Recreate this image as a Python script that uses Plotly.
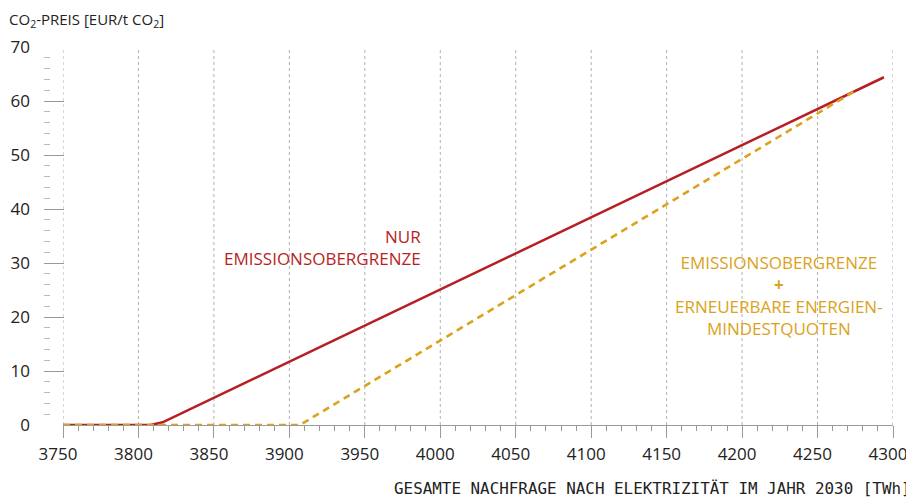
import plotly.graph_objects as go

# Data
nur_x = [3750, 3808, 3816, 4294]
nur_y = [0, 0, 0.5, 64.4]
quote_x = [3750, 3907, 4275]
quote_y = [0, 0, 61.9]

x_ticks = list(range(3750, 4301, 50))
y_ticks = list(range(0, 71, 10))

RED = "#b71f24"
YEL = "#dba21b"
GRID = "#b0b0b0"
AX = "#9a9a9a"
FONT = "Open Sans"

W, H = 906, 490
L, R, T, B = 35, 21, 39, 73
PW, PH = W - L - R, H - T - B

fig = go.Figure()
for t in x_ticks:
    fig.add_shape(type="line", xref="x", yref="y", x0=t, x1=t, y0=y_ticks[0], y1=y_ticks[-1],
                  line=dict(color=GRID, width=1, dash="3px,3px"), layer="below")

fig.add_trace(go.Scatter(x=nur_x, y=nur_y, mode="lines",
                         line=dict(color=RED, width=2.6), cliponaxis=False,
                         showlegend=False, hoverinfo="skip"))
fig.add_trace(go.Scatter(x=quote_x, y=quote_y, mode="lines",
                         line=dict(color=YEL, width=2.6, dash="7px,5px"), cliponaxis=False,
                         showlegend=False, hoverinfo="skip"))

fig.update_layout(
    width=W, height=H,
    margin=dict(l=L, r=R, t=T, b=B, autoexpand=False),
    paper_bgcolor="white", plot_bgcolor="white",
    font=dict(family=FONT, color="#222222"),
    xaxis=dict(range=[3750, 4300], domain=[20 / PW, 1], anchor="y", automargin=False,
               tickvals=x_ticks,
               ticks="outside", ticklen=12, tickcolor=AX, tickwidth=1,
               minor=dict(dtick=10, ticks="outside", ticklen=5, tickcolor=AX, showgrid=False),
               showline=True, linecolor=AX, linewidth=1,
               showgrid=False, zeroline=False, ticklabeloverflow="allow",
               tickfont=dict(size=17, family=FONT, color="#222222"),
               ticklabelstandoff=2, ticklabelshift=-5),
    yaxis=dict(range=[0, 70], anchor="free", position=0, automargin=False,
               tickvals=y_ticks, ticks="inside", ticklen=20, tickcolor=AX, tickwidth=1,
               minor=dict(dtick=2, ticks="inside", ticklen=6, tickcolor="#bbbbbb", showgrid=False),
               showline=False, showgrid=False, zeroline=False, ticklabeloverflow="allow",
               tickfont=dict(size=17, family=FONT, color="#222222"),
               ticklabelstandoff=13),
)

fig.add_annotation(xref="paper", yref="paper", x=-L / PW, y=1 + T / PH,
                   xanchor="left", yanchor="top", showarrow=False, borderpad=0,
                   text="CO<sub>2</sub>-PREIS [EUR/t CO<sub>2</sub>]",
                   font=dict(size=15, family=FONT, color="#222222"))
fig.add_annotation(xref="paper", yref="paper", x=(644 - L) / PW, y=-(480 - (T + PH)) / PH,
                   xanchor="center", yanchor="middle", showarrow=False,
                   text="GESAMTE NACHFRAGE NACH ELEKTRIZITÄT IM JAHR 2030 [TWh]",
                   font=dict(size=15.9, family="DejaVu Sans Mono", color="#222222"))
fig.add_annotation(x=3988.6, y=32.8, xanchor="right", yanchor="middle", align="right",
                   showarrow=False, text="NUR<br>EMISSIONSOBERGRENZE",
                   font=dict(size=17, family=FONT, color=RED))
fig.add_annotation(x=4224.5, y=24.0, xanchor="center", yanchor="middle", align="center",
                   showarrow=False,
                   text="EMISSIONSOBERGRENZE<br><b>+</b><br>ERNEUERBARE ENERGIEN-<br>MINDESTQUOTEN",
                   font=dict(size=17, family=FONT, color=YEL))

fig.write_html("out.html", config={"responsive": False})
